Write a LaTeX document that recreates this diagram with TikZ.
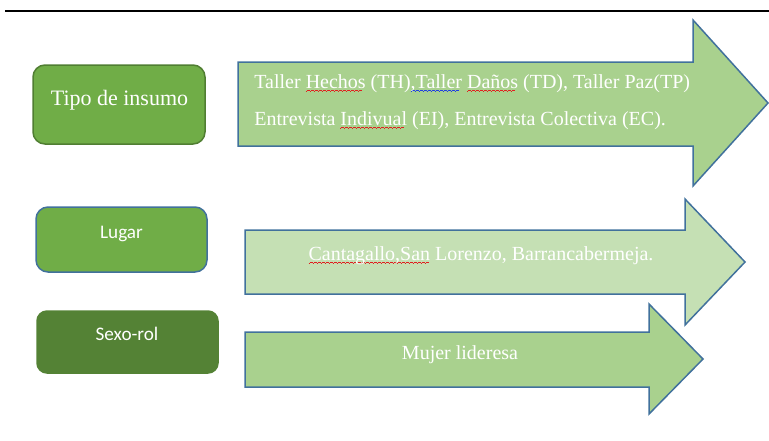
\documentclass[tikz,border=0pt]{standalone}
\usepackage{fontspec}
\setmainfont{Liberation Serif}
\newfontfamily\calibri{Carlito}
\usepackage{tikz}

\definecolor{boxgreen}{HTML}{70AD47}
\definecolor{boxdark}{HTML}{548235}
\definecolor{boxedge}{HTML}{507E32}
\definecolor{arrowedge}{HTML}{41719C}
\definecolor{arrowfill}{HTML}{A9D18E}
\definecolor{arrowlight}{HTML}{C5E0B4}
\definecolor{spellred}{HTML}{E02020}
\definecolor{spellblue}{HTML}{2040E0}

% subrayado ondulado del corrector
\newsavebox\spellbox
\newcommand\wavepiece{\hbox{\rule[-1.9pt]{0.5pt}{0.45pt}\rule[-1.6pt]{0.5pt}{0.45pt}\rule[-1.3pt]{0.5pt}{0.45pt}\rule[-1.6pt]{0.5pt}{0.45pt}}}
\newcommand\spell[2]{\sbox\spellbox{#2}\rlap{\textcolor{#1}{\leaders\wavepiece\hskip\wd\spellbox}}\usebox\spellbox}

\begin{document}
\begin{tikzpicture}
            [x=0.5pt,y=-0.5pt,every node/.style={inner sep=0pt, text=white},
             insumo/.style={draw=boxedge, fill=boxgreen, rounded corners=6pt, line width=0.75pt},
             bigarrow/.style={draw=arrowedge, line width=0.75pt, line join=miter},
             serifsize/.style={font=\fontsize{10}{12}\selectfont},
             calsize/.style={font=\calibri\fontsize{9.6}{12}\selectfont}]
          \useasboundingbox (0,0) rectangle (769,440);
          \draw[line width=0.65pt] (5,11) -- (769,11);

          % cajas de la izquierda
          \node[insumo, minimum width=86pt, minimum height=39.5pt] (tipo) at (119,104.5) {};
          \node[insumo, draw=arrowedge, minimum width=85.5pt, minimum height=32.5pt] (lugar) at (121.5,239.5) {};
          \node[insumo, draw=boxdark, fill=boxdark, rounded corners=5pt, minimum width=90.5pt, minimum height=31pt] (sexo) at (127.5,342) {};

          \node[anchor=base, font=\fontsize{11}{13}\selectfont] (tipotxt) at (119.5,105) {Tipo de insumo};
          \node[anchor=base, calsize] (lugartxt) at (121.5,238) {Lugar};
          \node[anchor=base, calsize] (sexotxt) at (127,340) {Sexo-rol};

          % flechas
          \foreach \l/\t/\b/\h/\ht/\hb/\tx/\ty/\col in {238/62/146/693/20/186/768/103/arrowfill,
              245/230/294/685/199/325/745/262/arrowlight, 245/332/387/649/304/414/703/359/arrowfill}
            \draw[bigarrow, fill=\col] (\l,\t) -- (\h,\t) -- (\h,\ht) -- (\tx,\ty) -- (\h,\hb) -- (\h,\b) -- (\l,\b) -- cycle;

          \node[anchor=base west, serifsize] (talleres) at (254,88) {Taller \spell{spellred}{Hechos} (TH)\spell{spellblue}{,Taller} \spell{spellred}{Daños} (TD), Taller Paz(TP)};
          \node[anchor=base west, serifsize] (entrevistas) at (254,125) {Entrevista \spell{spellred}{Indivual} (EI), Entrevista Colectiva (EC).};
          \node[anchor=base, serifsize] (lugares) at (481,260) {\spell{spellred}{Cantagallo,San} Lorenzo, Barrancabermeja.};
          \node[anchor=base, serifsize] (mujer) at (460,359) {Mujer lideresa};
        \end{tikzpicture}
\end{document}
